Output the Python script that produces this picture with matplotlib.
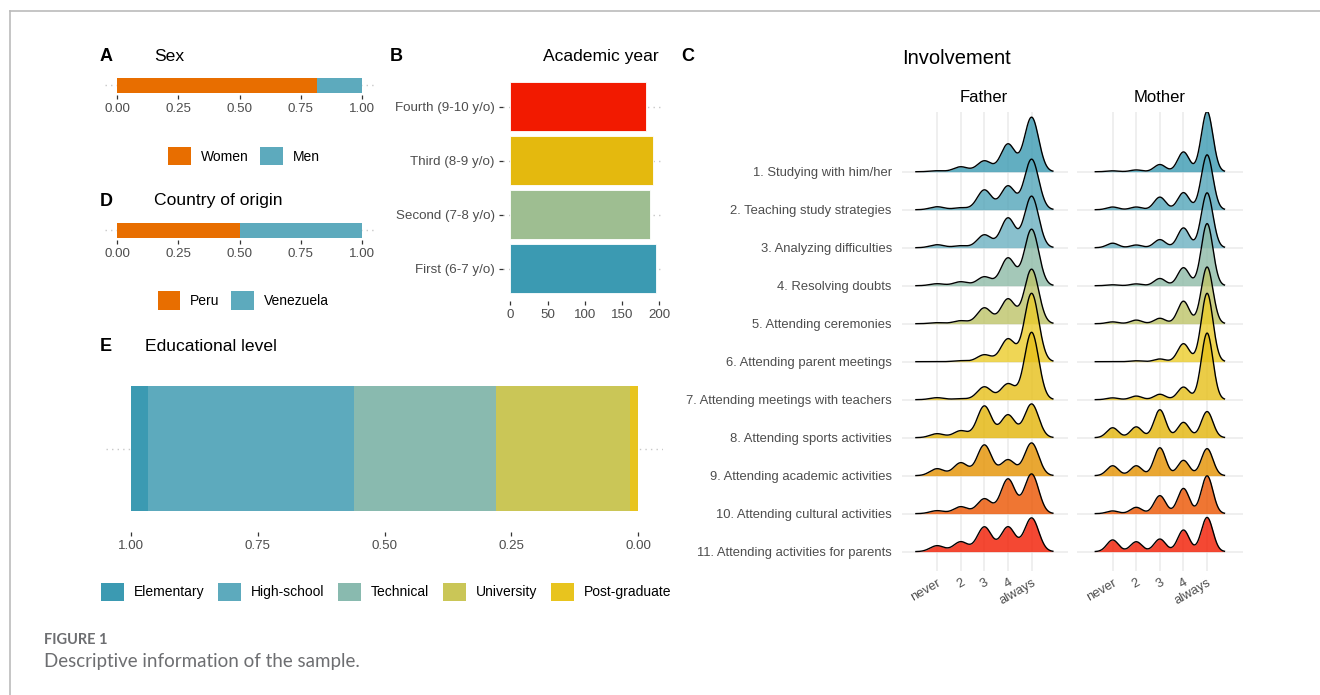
import numpy as np
import matplotlib
matplotlib.use("Agg")
import matplotlib.pyplot as plt
from matplotlib.colors import LinearSegmentedColormap
from matplotlib.patches import Patch
from matplotlib.lines import Line2D

plt.rcParams['font.family'] = ['Liberation Sans', 'DejaVu Sans']

# ---- data ----
sex_labels = ['Women', 'Men']
sex_share = [0.816, 0.184]

country_labels = ['Peru', 'Venezuela']
country_share = [0.50, 0.50]

year_labels = ['First (6-7 y/o)', 'Second (7-8 y/o)', 'Third (8-9 y/o)', 'Fourth (9-10 y/o)']
year_counts = [196, 187, 192, 182]

edu_labels = ['Elementary', 'High-school', 'Technical', 'University', 'Post-graduate']
edu_share = [0.034, 0.405, 0.280, 0.266, 0.015]

items = ['1. Studying with him/her', '2. Teaching study strategies',
         '3. Analyzing difficulties', '4. Resolving doubts',
         '5. Attending ceremonies', '6. Attending parent meetings',
         '7. Attending meetings with teachers', '8. Attending sports activities',
         '9. Attending academic activities', '10. Attending cultural activities',
         '11. Attending activities for parents']
scale_labels = ['never', '2', '3', '4', 'always']

# % answering never, 2, 3, 4, always
father_pct = [[1, 5, 11, 28, 55], [3, 2, 20, 24, 51], [3, 2, 13, 30, 52],
              [2, 4, 9, 28, 57], [1, 3, 16, 25, 55], [0, 1, 7, 23, 69],
              [2, 1, 13, 16, 68], [4, 7, 32, 23, 34], [7, 13, 31, 16, 33],
              [3, 7, 15, 35, 40], [6, 10, 25, 25, 34]]
mother_pct = [[1, 2, 8, 22, 67], [3, 3, 14, 19, 61], [5, 3, 9, 22, 61],
              [1, 2, 8, 20, 69], [2, 4, 6, 25, 63], [0, 1, 3, 20, 76],
              [2, 4, 6, 14, 74], [11, 12, 31, 17, 29], [11, 11, 31, 17, 30],
              [3, 7, 20, 28, 42], [13, 11, 14, 24, 38]]

zissou = LinearSegmentedColormap.from_list(
    'zissou1', ['#3B9AB2', '#78B7C5', '#EBCC2A', '#E1AF00', '#F21A00'])
TICK_COL = '#4D4D4D'
GRID = '#EBEBEB'
DOT = '#C8C8C8'

W, H = 1320, 695
fig = plt.figure(figsize=(W / 100, H / 100), dpi=100)


def box(x0, y0, x1, y1):
    return [x0 / W, 1 - y1 / H, (x1 - x0) / W, (y1 - y0) / H]


def ftext(x, y, s, **kw):
    fig.text(x / W, 1 - y / H, s, va='center', **kw)


def clean(ax):
    for sp in ax.spines.values():
        sp.set_visible(False)
    ax.tick_params(axis='both', length=3, width=0.9, color='#333333',
                   labelcolor=TICK_COL, labelsize=9.6, pad=3)


def fill_bar(ax, shares, colors):
    left = 0
    for s, c in zip(shares, colors):
        ax.barh(0, s, left=left, height=1.0, color=c, zorder=2)
        left += s
    ax.axhline(0, color=DOT, lw=1, ls=(0, (1, 3)), zorder=0)
    ax.set_xlim(-0.05, 1.05)
    ax.set_ylim(-0.6, 0.6)
    ax.set_yticks([])
    ax.set_xticks([0, 0.25, 0.5, 0.75, 1])
    ax.set_xticklabels(['0.00', '0.25', '0.50', '0.75', '1.00'])
    clean(ax)


def key_legend(ax, labels, colors, cx, cy, colsp):
    handles = [Patch(facecolor=c, edgecolor='none') for c in colors]
    ax.legend(handles, labels, loc='center', bbox_to_anchor=(cx / W, 1 - cy / H),
              bbox_transform=fig.transFigure, ncol=len(labels), frameon=False,
              fontsize=10, handlelength=1.65, handleheight=1.65,
              handletextpad=0.7, columnspacing=colsp, borderpad=0)


pair_cols = [zissou(6 / 7), zissou(1 / 7)]

# A: sex
axA = fig.add_axes(box(105, 76, 374, 94.5))
fill_bar(axA, sex_share, pair_cols)
key_legend(axA, sex_labels, pair_cols, 244, 156, 0.8)
ftext(100, 56.5, 'A', fontsize=13, fontweight='bold')
ftext(154, 56.5, 'Sex', fontsize=12.6)

# D: country
axD = fig.add_axes(box(105, 221, 374, 239.5))
fill_bar(axD, country_share, pair_cols)
key_legend(axD, country_labels, pair_cols, 243, 300.5, 0.8)
ftext(100, 201, 'D', fontsize=13, fontweight='bold')
ftext(154, 201, 'Country of origin', fontsize=12.6)

# B: academic year
axB = fig.add_axes(box(503, 74.3, 664, 301))
yr_cols = [zissou(t) for t in np.linspace(0, 1, 4)]
ypos = np.arange(1, len(year_counts) + 1)
for y in ypos:
    axB.axhline(y, color=DOT, lw=1, ls=(0, (1, 3)), zorder=0)
axB.barh(ypos, year_counts, height=0.9, color=yr_cols, edgecolor='white',
         linewidth=0.6, zorder=2)
axB.set_xlim(-9.8, 206.3)
axB.set_ylim(0.4, 4.6)
axB.set_yticks(ypos)
axB.set_yticklabels(year_labels)
axB.set_xticks([0, 50, 100, 150, 200])
clean(axB)
ftext(390, 56.5, 'B', fontsize=13, fontweight='bold')
ftext(659, 56.5, 'Academic year', fontsize=12.6, ha='right')

# E: educational level
axE = fig.add_axes(box(105.6, 365.5, 663.4, 531.5))
edu_cols = [zissou(i / 7) for i in range(5)]
left = 0
for s, c in zip(edu_share[::-1], edu_cols[::-1]):
    axE.barh(0, s, left=left, height=0.9, color=c, zorder=2)
    left += s
axE.axhline(0, color=DOT, lw=1, ls=(0, (1, 3)), zorder=0)
axE.set_xlim(1.05, -0.05)
axE.set_ylim(-0.6, 0.6)
axE.set_yticks([])
axE.set_xticks([1, 0.75, 0.5, 0.25, 0])
axE.set_xticklabels(['1.00', '0.75', '0.50', '0.25', '0.00'])
clean(axE)
key_legend(axE, edu_labels, edu_cols, 386, 591.7, 1.0)
ftext(100, 346.7, 'E', fontsize=13, fontweight='bold')
ftext(145, 346.7, 'Educational level', fontsize=12.6)


# C: ridgelines
def ridge_panel(ax, pct, bw, show_labels):
    xs = np.linspace(1 - 3 * bw, 5 + 3 * bw, 500)
    dens = []
    for row in pct:
        d = np.zeros_like(xs)
        for k, p in enumerate(row, start=1):
            d += p / 100 * np.exp(-0.5 * ((xs - k) / bw) ** 2)
        dens.append(d / (bw * np.sqrt(2 * np.pi)))
    sc = 1.8 / max(d.max() for d in dens)
    n = len(pct)
    for v in range(1, 6):
        ax.axvline(v, color=GRID, lw=1.1, zorder=0)
    for i, d in enumerate(dens):
        base = n - 1 - i
        ax.axhline(base, color=GRID, lw=1.1, zorder=0)
        ax.fill_between(xs, base, base + d * sc, color=zissou(i / (n - 1)),
                        alpha=0.8, lw=0, zorder=2 + 2 * i)
        ax.plot(xs, base + d * sc, color='black', lw=1.0, zorder=3 + 2 * i)
    ax.set_xlim(-0.51, 6.52)
    ax.set_ylim(-0.51, 11.58)
    ax.set_xticks(range(1, 6))
    ax.set_xticklabels(scale_labels, rotation=30, ha='right', va='top',
                       rotation_mode='anchor')
    ax.set_yticks(range(n))
    if show_labels:
        ax.set_yticklabels(items[::-1])
    else:
        ax.set_yticklabels([])
    for sp in ax.spines.values():
        sp.set_visible(False)
    ax.tick_params(axis='both', length=0, labelcolor=TICK_COL, labelsize=9.4)
    ax.tick_params(axis='y', pad=7)
    ax.tick_params(axis='x', pad=4)


axF = fig.add_axes(box(901.5, 111.7, 1067.5, 571))
ridge_panel(axF, father_pct, 0.30, True)
axM = fig.add_axes(box(1077, 111.7, 1243, 571))
ridge_panel(axM, mother_pct, 0.245, False)
ftext(984, 97, 'Father', fontsize=12, ha='center')
ftext(1160, 97, 'Mother', fontsize=12, ha='center')
ftext(681, 56.5, 'C', fontsize=13, fontweight='bold')
ftext(902, 59, 'Involvement', fontsize=14.5)

# caption and frame
ftext(44, 640, 'FIGURE 1', fontsize=10.5, fontweight='bold', color='#6D6E71',
      family=['Lato', 'DejaVu Sans'])
ftext(44, 662, 'Descriptive information of the sample.', fontsize=13.5,
      color='#6D6E71', family=['Lato', 'DejaVu Sans'])
fig.add_artist(Line2D([10 / W, 10 / W], [0, 1 - 11 / H], color='#BBBBBB', lw=1.2))
fig.add_artist(Line2D([10 / W, 1], [1 - 11 / H, 1 - 11 / H], color='#BBBBBB', lw=1.2))

fig.savefig('out.png', dpi=100, facecolor='white')
